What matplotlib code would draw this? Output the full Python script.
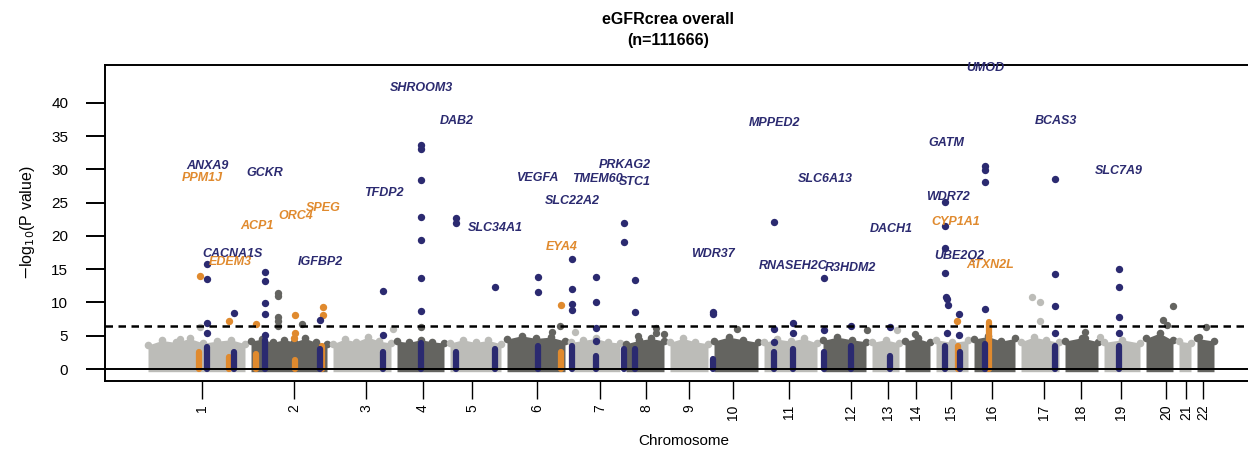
import numpy as np
import matplotlib
matplotlib.use("Agg")
import matplotlib.pyplot as plt

plt.rcParams['font.family'] = ['Liberation Sans', 'DejaVu Sans']

# chromosome layout (cumulative position, arbitrary units)
chrom_names = [str(i) for i in range(1, 23)]
chrom_edges = [145, 248, 330, 394, 447, 504, 568, 623, 667, 711, 761, 820,
               869, 902, 933, 971, 1018, 1062, 1101, 1143, 1176, 1194, 1217]
chrom_ticks = [202, 294, 366, 423, 472, 537, 600, 646, 689, 733, 789, 851,
               888, 916, 951, 992, 1044, 1081, 1121, 1166, 1186, 1203]

# approximate upper envelope of the bulk of (non-significant) SNPs per chromosome
band_top = [
    [3.6, 4.3, 4.0, 4.6, 3.9, 4.2, 4.4, 3.8],
    [4.2, 4.5, 4.0, 4.4, 4.1, 4.6, 4.0, 3.8],
    [3.8, 4.5, 4.1, 4.8, 4.2, 3.9],
    [4.2, 4.0, 4.4, 4.1, 3.9],
    [3.9, 4.4, 4.0, 4.3, 3.8],
    [4.5, 5.0, 4.6, 4.8, 4.2],
    [4.0, 4.3, 4.6, 4.1, 3.9],
    [3.8, 4.3, 4.6, 4.2],
    [4.0, 4.6, 4.1, 3.8],
    [4.2, 4.8, 4.4, 4.0],
    [4.0, 4.5, 4.2, 4.6, 3.9],
    [4.3, 4.8, 4.4, 4.1],
    [4.0, 4.4, 3.9],
    [4.2, 4.6, 4.0],
    [4.4, 4.0, 4.3],
    [4.5, 4.9, 4.2, 4.6],
    [4.1, 4.8, 4.4, 4.0],
    [4.2, 4.7, 4.1],
    [4.0, 4.4, 3.9],
    [4.6, 5.4, 4.3],
    [4.2, 3.9],
    [4.6, 4.2],
]

# grey SNPs above the bulk
gray_light_x = [200, 180, 393, 575, 897, 1032, 1040, 1040, 1100]
gray_light_y = [6.3, 4.5, 6.0, 5.5, 5.9, 10.8, 10.1, 7.2, 4.8]
gray_dark_x = [278, 278, 278, 278, 278, 302, 421, 552, 560, 638, 656, 656, 664,
               737, 867, 915, 1085, 1085, 1173, 1163, 1167, 1206, 1199]
gray_dark_y = [11.4, 11.0, 7.8, 7.2, 6.5, 6.8, 6.3, 5.6, 6.5, 5.0, 5.4, 6.1, 5.3,
               6.0, 5.9, 5.3, 5.6, 4.7, 9.5, 7.4, 6.6, 6.3, 4.8]

# known loci (navy) and novel loci (orange)
navy_col_x = [207, 234, 265, 320, 383, 421, 456, 495, 538, 572, 596, 624, 635,
              713, 774, 793, 824, 851, 890, 945, 960, 985, 1055, 1119]
navy_col_top = [3.3, 2.5, 4.4, 3.0, 2.5, 3.9, 2.5, 3.0, 3.5, 3.5, 2.0, 3.0, 3.0,
                1.5, 2.5, 3.0, 2.5, 3.5, 2.0, 3.5, 2.5, 3.8, 3.5, 3.5]
navy_x = [207, 207, 207, 207, 234, 265, 265, 265, 265, 265, 320, 383, 383,
          421, 421, 421, 421, 421, 421, 421, 456, 456, 495, 538, 538,
          572, 572, 572, 572, 596, 596, 596, 596, 624, 624, 635, 635, 713, 713,
          774, 774, 774, 793, 793, 824, 824, 851, 890,
          945, 945, 945, 945, 946, 947, 948, 947, 959, 959,
          985, 985, 985, 985, 1055, 1055, 1055, 1055, 1119, 1119, 1119, 1119]
navy_y = [15.8, 13.5, 6.9, 5.4, 8.4, 14.6, 13.2, 9.9, 8.3, 5.1, 7.3, 11.7, 5.1,
          33.6, 33.0, 28.4, 22.9, 19.4, 13.7, 8.7, 22.7, 21.9, 12.3, 13.8, 11.6,
          16.5, 12.0, 9.8, 8.9, 13.8, 10.1, 6.2, 4.2, 21.9, 19.1, 13.4, 8.6, 8.6, 8.2,
          22.1, 6.0, 4.1, 6.9, 5.4, 13.7, 5.9, 6.5, 6.3,
          25.1, 21.5, 18.2, 14.4, 10.8, 10.5, 9.6, 5.4, 8.3, 5.1,
          30.5, 29.9, 28.1, 9.0, 28.6, 14.3, 9.5, 5.4, 15.0, 12.3, 7.8, 5.4]
orange_col_x = [199, 229, 256, 295, 322, 561, 958, 989]
orange_col_top = [2.5, 1.8, 2.2, 1.3, 3.5, 2.5, 3.5, 7.0]
orange_x = [200, 229, 256, 295, 295, 294, 323, 323, 561, 957]
orange_y = [14.0, 7.2, 6.8, 8.1, 5.4, 4.7, 9.3, 8.1, 9.6, 7.2]

# gene labels
genes = ['ANXA9', 'PPM1J', 'GCKR', 'ACP1', 'ORC4', 'SPEG', 'TFDP2', 'CACNA1S',
         'EDEM3', 'IGFBP2', 'SHROOM3', 'DAB2', 'SLC34A1', 'VEGFA', 'SLC22A2',
         'EYA4', 'PRKAG2', 'TMEM60', 'STC1', 'WDR37', 'MPPED2', 'RNASEH2C',
         'SLC6A13', 'R3HDM2', 'DACH1', 'GATM', 'WDR72', 'CYP1A1', 'UBE2Q2',
         'ATXN2L', 'UMOD', 'BCAS3', 'SLC7A9']
gene_x = [207, 202, 265, 257, 296, 323, 384, 233, 230, 320, 421, 457, 495, 538,
          572, 562, 625, 597, 635, 713, 775, 793, 825, 850, 891, 946, 948, 956,
          959, 990, 985, 1056, 1119]
gene_y = [30.5, 28.7, 29.5, 21.5, 23.0, 24.2, 26.5, 17.3, 16.1, 16.1, 42.3, 37.3,
          21.2, 28.7, 25.3, 18.4, 30.7, 28.6, 28.1, 17.3, 37.0, 15.5, 28.6, 15.2,
          21.1, 34.0, 25.9, 22.1, 17.0, 15.6, 45.3, 37.3, 29.8]
gene_novel = ['PPM1J', 'ACP1', 'ORC4', 'SPEG', 'EDEM3', 'EYA4', 'CYP1A1', 'ATXN2L']

navy = '#2b2a70'
orange = '#e08a2e'
light = '#bcbcb8'
dark = '#646460'

fig = plt.figure(figsize=(12.48, 4.71), dpi=100)
ax = fig.add_axes([105 / 1248, 90 / 471, 1157 / 1248, 316 / 471])

# bulk of SNPs
for i, top in enumerate(band_top):
    col = light if i % 2 == 0 else dark
    xs = np.linspace(chrom_edges[i] + 3, chrom_edges[i + 1] - 3, len(top))
    ax.fill_between(xs, -0.4, top, color=col, lw=0, zorder=1)
    ax.scatter(xs, top, s=30, color=col, lw=0, zorder=1)

ax.scatter(gray_light_x, gray_light_y, s=28, color=light, lw=0, zorder=2)
ax.scatter(gray_dark_x, gray_dark_y, s=28, color=dark, lw=0, zorder=2)

for x, t in zip(orange_col_x, orange_col_top):
    ax.plot([x, x], [0, t], color=orange, lw=4.5, solid_capstyle='round', zorder=3)
for x, t in zip(navy_col_x, navy_col_top):
    ax.plot([x, x], [0, t], color=navy, lw=4.5, solid_capstyle='round', zorder=3)
ax.scatter(orange_x, orange_y, s=28, color=orange, lw=0, zorder=4)
ax.scatter(navy_x, navy_y, s=28, color=navy, lw=0, zorder=4)

ax.axhline(0, color='black', lw=1.4, zorder=5)
ax.axhline(6.5, color='black', lw=1.8, ls=(0, (3, 2.2)), zorder=5)

for g, x, y in zip(genes, gene_x, gene_y):
    c = orange if g in gene_novel else navy
    ax.text(x, y, g, color=c, fontsize=9, fontweight='bold', fontstyle='italic',
            ha='center', va='center', zorder=6)

ax.set_xlim(105, 1262)
ax.set_ylim(-1.8, 45.7)
ax.set_yticks(np.arange(0, 41, 5))
ax.tick_params(axis='y', length=13.5, width=1.4, pad=13, labelsize=11)
ax.set_xticks(chrom_ticks)
ax.set_xticklabels(chrom_names, rotation=90, fontsize=10)
ax.tick_params(axis='x', length=13, width=1.0, pad=4)
for lab in ax.get_xticklabels():
    lab.set_va('top')
for s in ax.spines.values():
    s.set_linewidth(1.4)

ax.set_ylabel(r'$-$log$_{10}$(P value)', fontsize=11.5, labelpad=10)
ax.set_xlabel('Chromosome', fontsize=11, labelpad=10)

fig.text(668 / 1248, 1 - 20 / 471, 'eGFRcrea overall', ha='center', va='center',
         fontsize=11.5, fontweight='bold')
fig.text(668 / 1248, 1 - 41 / 471, '(n=111666)', ha='center', va='center',
         fontsize=11.5, fontweight='bold')

fig.savefig('out.png', dpi=100)
